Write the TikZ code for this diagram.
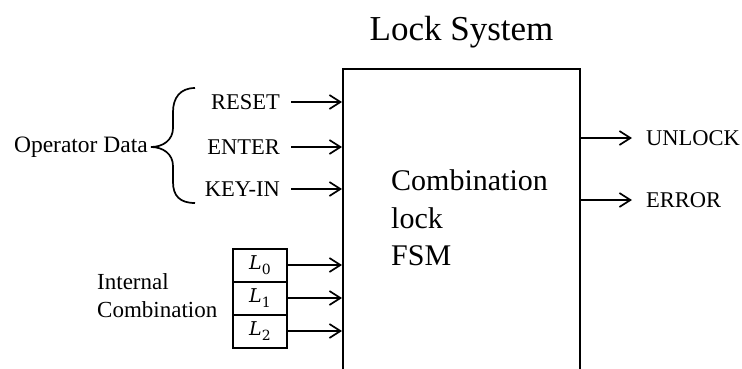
\documentclass[tikz,border=0pt]{standalone}
\usepackage{fontspec}
\setmainfont{Liberation Serif}
\newfontfamily\cellfont{DejaVu Serif}
\usetikzlibrary{arrows.meta}

\tikzset{
sig/.style={line width=2pt, -{Straight Barb[length=11pt,width=14pt,line width=1.7pt]}},
lbl/.style={font=\fontsize{22.5}{27}\selectfont},
inlabel/.style={lbl, inner xsep=11pt, inner ysep=2pt},
outlabel/.style={lbl, inner xsep=14pt, inner ysep=2pt},
cell/.style={draw, line width=2pt, minimum width=54pt, minimum height=33pt, inner sep=0pt, font=\cellfont\fontsize{19}{23}\selectfont}
}

\newcommand{\opin}[3]{
\node[inlabel, anchor=east] (#1) at (291,#2) {#3};
\draw[sig] (#1.east) -- (#1.east -| fsm.west);
}
\newcommand{\keycell}[3]{
\node[cell] (#1) at (260,#2) {\itshape L\raisebox{-0.28em}{\upshape\fontsize{14}{14}\selectfont #3}};
\draw[sig] (#1.east) -- (#1.east -| fsm.west);
}
\newcommand{\fsmout}[3]{
\node[outlabel, anchor=west] (#1) at (632,#2) {#3};
\draw[sig] (#1.west -| fsm.east) -- (#1.west);
}

\begin{document}
\begin{tikzpicture}[x=1pt, y=-1pt]
\useasboundingbox (0,0) rectangle (742,368);
\clip (0,0) rectangle (742,368);

\node[draw, line width=2pt, minimum width=237pt, minimum height=340pt, anchor=north] (fsm) at (461.5,68) {};
\node[font=\fontsize{35}{40}\selectfont, anchor=base] (title) at (461.5,40) {Lock System};
\node[font=\fontsize{30}{37.5}\selectfont, align=left, anchor=north west, inner sep=0pt] (fsmtext) at (391,169.5) {Combination\\lock\\FSM};

\opin{reset}{102}{RESET}
\opin{enter}{147}{ENTER}
\opin{keyin}{189}{KEY-IN}

\node[font=\fontsize{23.5}{28}\selectfont, anchor=east, inner xsep=3pt] (opdata) at (151,147) {Operator Data};
\draw[line width=1.7pt] (195,88) .. controls (180,88) and (173,98) .. (173,112) -- (173,128)
  .. controls (173,140) and (163,147) .. (opdata.east)
  .. controls (163,147) and (173,154) .. (173,166) -- (173,182)
  .. controls (173,196) and (180,203) .. (195,203);

\keycell{l0}{265}{0}
\keycell{l1}{298}{1}
\keycell{l2}{331}{2}
\node[font=\fontsize{23}{28}\selectfont, align=left, anchor=north west, inner sep=0pt] (intcomb) at (97,273) {Internal\\Combination};

\fsmout{unlock}{138}{UNLOCK}
\fsmout{error}{200}{ERROR}
\end{tikzpicture}
\end{document}
